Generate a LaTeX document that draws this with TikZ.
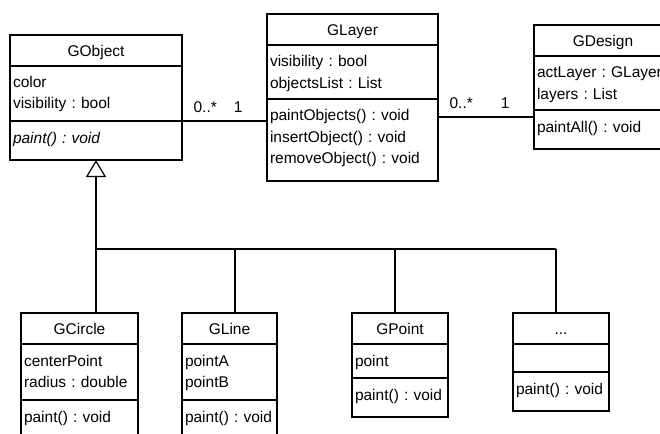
\documentclass[tikz,border=0pt]{standalone}
\usepackage{fontspec}
\setmainfont{Liberation Sans}
\usetikzlibrary{positioning, arrows.meta}

\begin{document}
\begin{tikzpicture}[x = 1pt, y = -1pt, line width = 1.2pt, font = \fontsize{15.5}{21}\selectfont\frenchspacing,
	head/.style = {draw, fill = white, inner sep = 0, outer sep = 0, minimum height = 31, text height = 11.1, text depth = 0, anchor = north west},
	part/.style = {draw, fill = white, inner xsep = 3, inner ysep = 0, outer sep = 0, align = left, text height = 22, below = 0pt of #1},
	mult/.style = {inner sep = 0, anchor = base west},
	inherit/.style = {-{Triangle[open, width = 20pt, length = 17pt, fill = white]}}]

	% Definitions

	\useasboundingbox [fill = white] (0, 0) rectangle (660, 433);

	\def\ybus{249}		% Height of the inheritance bus

	% Draw upper classes

	\node [head, minimum width = 172] (objHead) at (10, 35) {GObject};
	\node [part = objHead, text width = 166, text depth = 33] (objAttr) {color\\visibility : bool};
	\node [part = objAttr, text width = 166, text depth = 17] (objMeth) {\itshape paint() : void};

	\node [head, minimum width = 171] (layerHead) at (267, 14) {GLayer};
	\node [part = layerHead, text width = 165, text depth = 32] (layerAttr) {visibility : bool\\objectsList : List};
	\node [part = layerAttr, text width = 165, text depth = 60] (layerMeth) {paintObjects() : void\\insertObject() : void\\removeObject() : void};

	\node [head, minimum width = 138] (designHead) at (534, 25) {GDesign};
	\node [part = designHead, text width = 132, text depth = 32] (designAttr) {actLayer : GLayer\\layers : List};
	\node [part = designAttr, text width = 132, text depth = 17] (designMeth) {paintAll() : void};

	% Draw lower classes

	\node [head, minimum width = 117] (circleHead) at (21, 313) {GCircle};
	\node [part = circleHead, text width = 111, text depth = 34] (circleAttr) {centerPoint\\radius : double};
	\node [part = circleAttr, text width = 111, text depth = 17] (circleMeth) {paint() : void};

	\node [head, minimum width = 95] (lineHead) at (182, 313) {GLine};
	\node [part = lineHead, text width = 89, text depth = 34] (lineAttr) {pointA\\pointB};
	\node [part = lineAttr, text width = 89, text depth = 17] (lineMeth) {paint() : void};

	\node [head, minimum width = 96] (pointHead) at (352, 313) {GPoint};
	\node [part = pointHead, text width = 90, text depth = 12] (pointAttr) {point};
	\node [part = pointAttr, text width = 90, text depth = 17] (pointMeth) {paint() : void};

	\node [head, minimum width = 96] (moreHead) at (513, 313) {...};
	\node [part = moreHead, text width = 90, text depth = 6] (moreAttr) {};
	\node [part = moreAttr, text width = 90, text depth = 17] (moreMeth) {paint() : void};

	% Draw associations

	\draw (objMeth.north east) -- (objMeth.north east -| layerMeth.west)
		node [mult, pos = 0, xshift = 11, yshift = 8] {0..*}
		node [mult, pos = 1, anchor = base east, xshift = -24, yshift = 8] {1};

	\coordinate (designLink) at ([yshift = -7pt] designMeth.north west);
	\draw (designLink -| layerMeth.east) -- (designLink)
		node [mult, pos = 0, xshift = 11, yshift = 8] {0..*}
		node [mult, pos = 1, anchor = base east, xshift = -24, yshift = 8] {1};

	% Draw inheritance

	\foreach \x [count = \n] in {96, 235, 395, 556}
		\coordinate (drop\n) at (\x, \ybus);

	\draw [inherit] (drop1) -- (objMeth.south);
	\draw (drop1) -- (drop4);

	\foreach \n/\c in {1/circleHead, 2/lineHead, 3/pointHead, 4/moreHead}
		\draw (drop\n) -- (drop\n |- \c.north);

\end{tikzpicture}
\end{document}
